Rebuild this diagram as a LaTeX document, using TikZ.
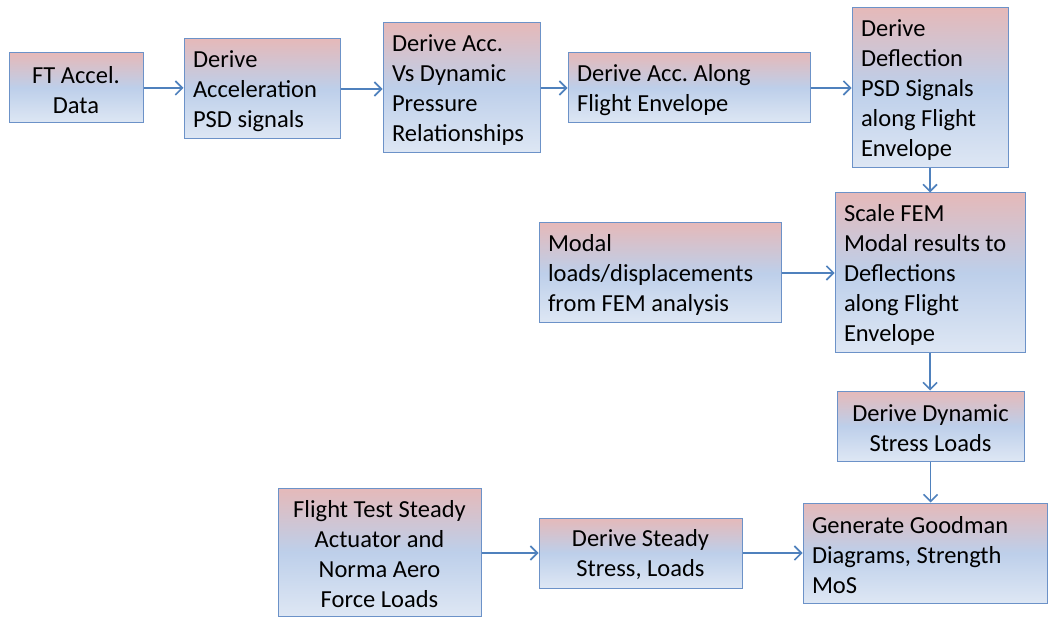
\documentclass[tikz,border=0pt]{standalone}
\usepackage{fontspec}
\setmainfont{Carlito}
\usetikzlibrary{arrows.meta}
\definecolor{pinktop}{RGB}{229,185,185}
\definecolor{bluemid}{RGB}{189,207,234}
\definecolor{bluebot}{RGB}{222,231,244}
\definecolor{boxline}{RGB}{108,146,200}
\definecolor{arrowcol}{RGB}{79,129,189}
\tikzset{
  box/.style={draw=boxline, line width=1pt, rectangle,
    top color=pinktop, bottom color=bluebot, middle color=bluemid,
    inner xsep=9pt, inner ysep=0pt,
    font=\fontsize{24.5}{30}\selectfont\frenchspacing},
  lbox/.style={box},
  cbox/.style={box}
}
\tikzset{conn/.style={draw=arrowcol, line width=1.6pt, -{Straight Barb[length=7pt,width=14pt,line width=1.6pt]}}}
\newcommand{\lboxalign}{\raggedright}
\newcommand{\cboxalign}{\centering}
\newcommand{\bx}[7]{% name, style, cx, cy, w, h, text
  \node[#2, minimum width=#5pt, minimum height=#6pt] (#1) at (#3pt,-#4pt) {\raisebox{-2pt}[\height][\depth]{\parbox{\dimexpr #5pt-18pt\relax}{\csname #2align\endcsname #7}}};}
\begin{document}
\begin{tikzpicture}
\useasboundingbox (0,0) rectangle (1049pt,-617pt);
\bx{a}{cbox}{76}{88}{134}{70}{FT Accel.\\Data}
\bx{b}{lbox}{262}{89}{156}{100}{Derive\\Acceleration\\PSD signals}
\bx{c}{lbox}{461.5}{88}{157}{130}{Derive Acc.\\Vs Dynamic\\Pressure\\Relationships}
\bx{d}{lbox}{689}{88}{242}{70}{Derive Acc. Along\\Flight Envelope}
\bx{e}{lbox}{930}{88}{156}{160}{Derive\\Deflection\\PSD Signals\\along Flight\\Envelope}
\bx{f}{lbox}{930}{273}{190}{160}{Scale FEM\\Modal results to\\Deflections\\along Flight\\Envelope}
\bx{g}{lbox}{660}{273}{242}{100}{Modal\\loads/displacements\\from FEM analysis}
\bx{h}{cbox}{930.5}{426}{187}{70}{Derive Dynamic\\Stress Loads}
\bx{i}{lbox}{925}{553}{244}{100}{Generate Goodman\\Diagrams, Strength\\MoS}
\bx{j}{cbox}{379.5}{552}{203}{128}{Flight Test Steady\\Actuator and\\Norma Aero\\Force Loads}
\bx{k}{cbox}{640.5}{553}{203}{70}{Derive Steady\\Stress, Loads}
\draw[conn] (a.east) -- (a.east -| b.west);
\draw[conn] (b.east) -- (b.east -| c.west);
\draw[conn] (c.east) -- (c.east -| d.west);
\draw[conn] (d.east) -- (d.east -| e.west);
\draw[conn] (e.south) -- (e.south |- f.north);
\draw[conn] (g.east) -- (g.east -| f.west);
\draw[conn] (f.south) -- (f.south |- h.north);
\draw[conn] (h.south) -- (h.south |- i.north);
\draw[conn] (k.west -| j.east) -- (k.west);
\draw[conn] (k.east) -- (k.east -| i.west);
\end{tikzpicture}
\end{document}
